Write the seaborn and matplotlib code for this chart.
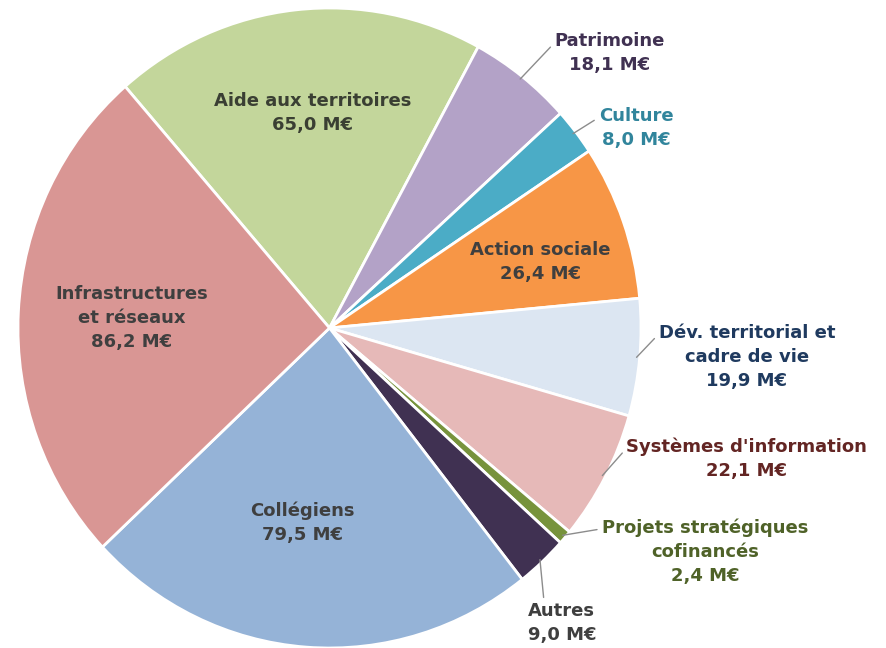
import matplotlib
matplotlib.use("Agg")
import matplotlib.pyplot as plt
import seaborn as sns
import numpy as np

sns.set_theme(style="white")
plt.rcParams["font.family"] = ["DejaVu Sans"]

# Budget by policy area (M€), clockwise from the top
categories = [
    "Aide aux territoires", "Patrimoine", "Culture", "Action sociale",
    "Dév. territorial et\ncadre de vie", "Systèmes d'information",
    "Projets stratégiques\ncofinancés", "Autres", "Collégiens",
    "Infrastructures\net réseaux",
]
values = [65.0, 18.1, 8.0, 26.4, 19.9, 22.1, 2.4, 9.0, 79.5, 86.2]

slice_colors = sns.color_palette([
    "#C3D69B", "#B3A2C7", "#4BACC6", "#F79646", "#DCE6F2",
    "#E6B9B8", "#77933C", "#403152", "#95B3D7", "#D99694",
])
text_colors = [
    "#3A3F33", "#403152", "#31859C", "#3F3F3F", "#1F3A5F",
    "#632523", "#4F6228", "#3F3F3F", "#3F3F3F", "#3F3F3F",
]

# label placement: (x, y) in axes data units, and the point of the text box
# the leader line attaches to (None = no leader line)
label_pos = [
    (-0.053, 0.672, None),
    (0.900, 0.859, (0.0, 0.75)),
    (0.984, 0.625, (0.0, 0.75)),
    (0.676, 0.206, None),
    (1.340, -0.091, (0.0, 0.85)),
    (1.340, -0.409, (0.0, 0.75)),
    (1.205, -0.700, (0.0, 0.85)),
    (0.746, -0.922, (0.24, 1.0)),
    (-0.088, -0.609, None),
    (-0.634, 0.031, None),
]

W, H = 886, 648
fig = plt.figure(figsize=(W / 100, H / 100), dpi=100)
cx, cy, rx, ry = 329.5, 328.0, 311.5, 320.0
ax = fig.add_axes([(cx - rx) / W, (H - cy - ry) / H, 2 * rx / W, 2 * ry / H])

wedges, _ = ax.pie(
    values, colors=slice_colors, startangle=131, counterclock=False,
    radius=1.0, center=(0, 0),
    wedgeprops=dict(edgecolor="white", linewidth=2),
)
ax.set_aspect("auto")
ax.set_xlim(-1, 1)
ax.set_ylim(-1, 1)
ax.axis("off")

def fmt(v):
    return f"{v:.1f}".replace(".", ",") + " M€"

FS = 13
LS = 1.42
for w, cat, v, tc, (lx, ly, rel) in zip(wedges, categories, values, text_colors, label_pos):
    label = f"{cat}\n{fmt(v)}"
    if rel is not None:
        ang = np.deg2rad((w.theta1 + w.theta2) / 2)
        sx, sy = 0.99 * np.cos(ang), 0.99 * np.sin(ang)
        ax.annotate(
            label, xy=(sx, sy), xytext=(lx, ly), ha="center", va="center",
            fontsize=FS, fontweight="bold", color=tc, linespacing=LS,
            annotation_clip=False,
            arrowprops=dict(arrowstyle="-", color="#8C8C8C", lw=1.0,
                            shrinkA=1, shrinkB=0, relpos=rel),
        )
    else:
        ax.text(lx, ly, label, ha="center", va="center", fontsize=FS,
                fontweight="bold", color=tc, linespacing=LS)

fig.savefig("out.png", dpi=100, facecolor="white")
